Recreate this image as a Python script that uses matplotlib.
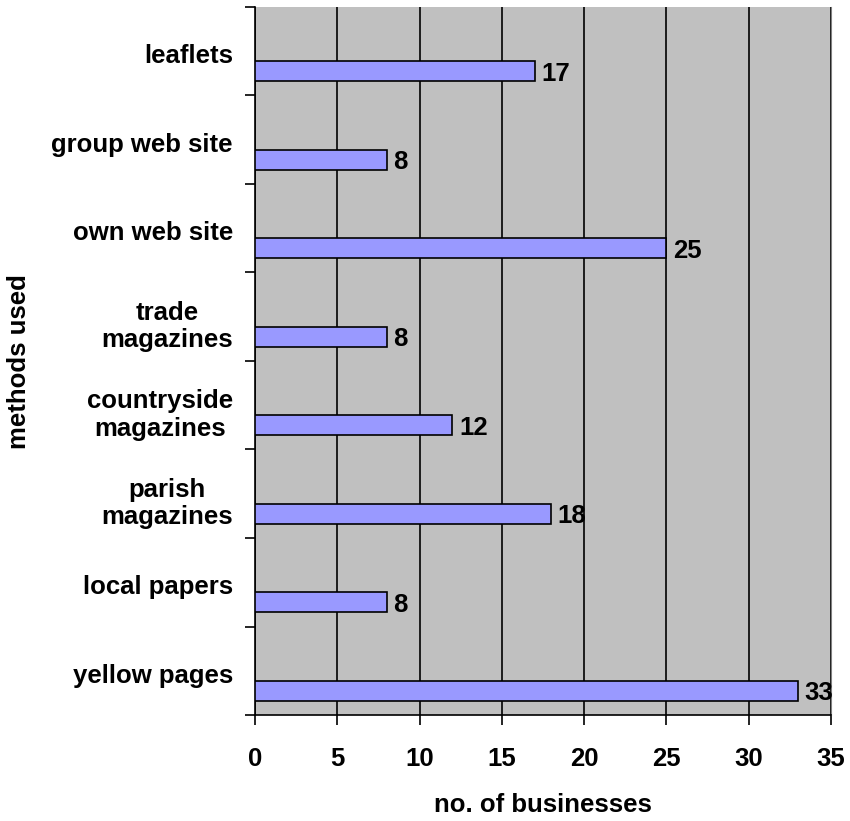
import matplotlib
matplotlib.use("Agg")
import matplotlib.pyplot as plt
from matplotlib.ticker import FixedLocator, NullFormatter

plt.rcParams['font.family'] = ['Liberation Sans', 'DejaVu Sans']

methods = ["leaflets", "group web site", "own web site", "trade\nmagazines",
           "countryside\nmagazines", "parish\nmagazines", "local papers", "yellow pages"]
businesses = [17, 8, 25, 8, 12, 18, 8, 33]
x_ticks = [0, 5, 10, 15, 20, 25, 30, 35]

FS = 18.5

fig = plt.figure(figsize=(8.5, 8.21), dpi=100)
ax = fig.add_axes([0.300, 0.1291, 0.6776, 0.8624])
ax.set_facecolor("#C0C0C0")

n = len(methods)
bar_h = 0.226
bar_off = 0.726
for i, v in enumerate(businesses):
    ax.barh(i + bar_off, v, height=bar_h, color="#9999FF",
            edgecolor="black", linewidth=1.2, zorder=3)
    ax.text(v + 0.4, i + bar_off + 0.03, str(v), ha="left", va="center",
            fontsize=FS, fontweight="bold", zorder=4)

ax.set_xlim(0, 35)
ax.set_ylim(n, 0)

ax.xaxis.set_major_locator(FixedLocator(x_ticks))
ax.set_xticklabels([str(t) for t in x_ticks], fontsize=FS, fontweight="bold")
ax.tick_params(axis="x", direction="out", length=7, width=1.2, pad=16)
ax.grid(axis="x", color="black", linewidth=1.2, zorder=1)

# category boundaries carry the tick marks, names sit at band centres
ax.yaxis.set_major_locator(FixedLocator(list(range(n + 1))))
ax.yaxis.set_major_formatter(NullFormatter())
label_pos = [i + (0.56 if "\n" in m else 0.53) for i, m in enumerate(methods)]
ax.yaxis.set_minor_locator(FixedLocator(label_pos))
ax.set_yticklabels(methods, minor=True, fontsize=FS, fontweight="bold",
                   ha="right", multialignment="center", linespacing=1.2)
ax.tick_params(axis="y", which="major", direction="out", length=7, width=1.2)
ax.tick_params(axis="y", which="minor", length=0, pad=16)

ax.spines["top"].set_visible(False)
ax.spines["right"].set_color("#808080")
ax.spines["left"].set_linewidth(1.2)
ax.spines["bottom"].set_linewidth(1.2)

ax.set_xlabel("no. of businesses", fontsize=FS, fontweight="bold", labelpad=16)
fig.text(0.022, 0.559, "methods used", rotation=90, ha="center", va="center",
         fontsize=FS, fontweight="bold")

fig.savefig("out.png", dpi=100)
